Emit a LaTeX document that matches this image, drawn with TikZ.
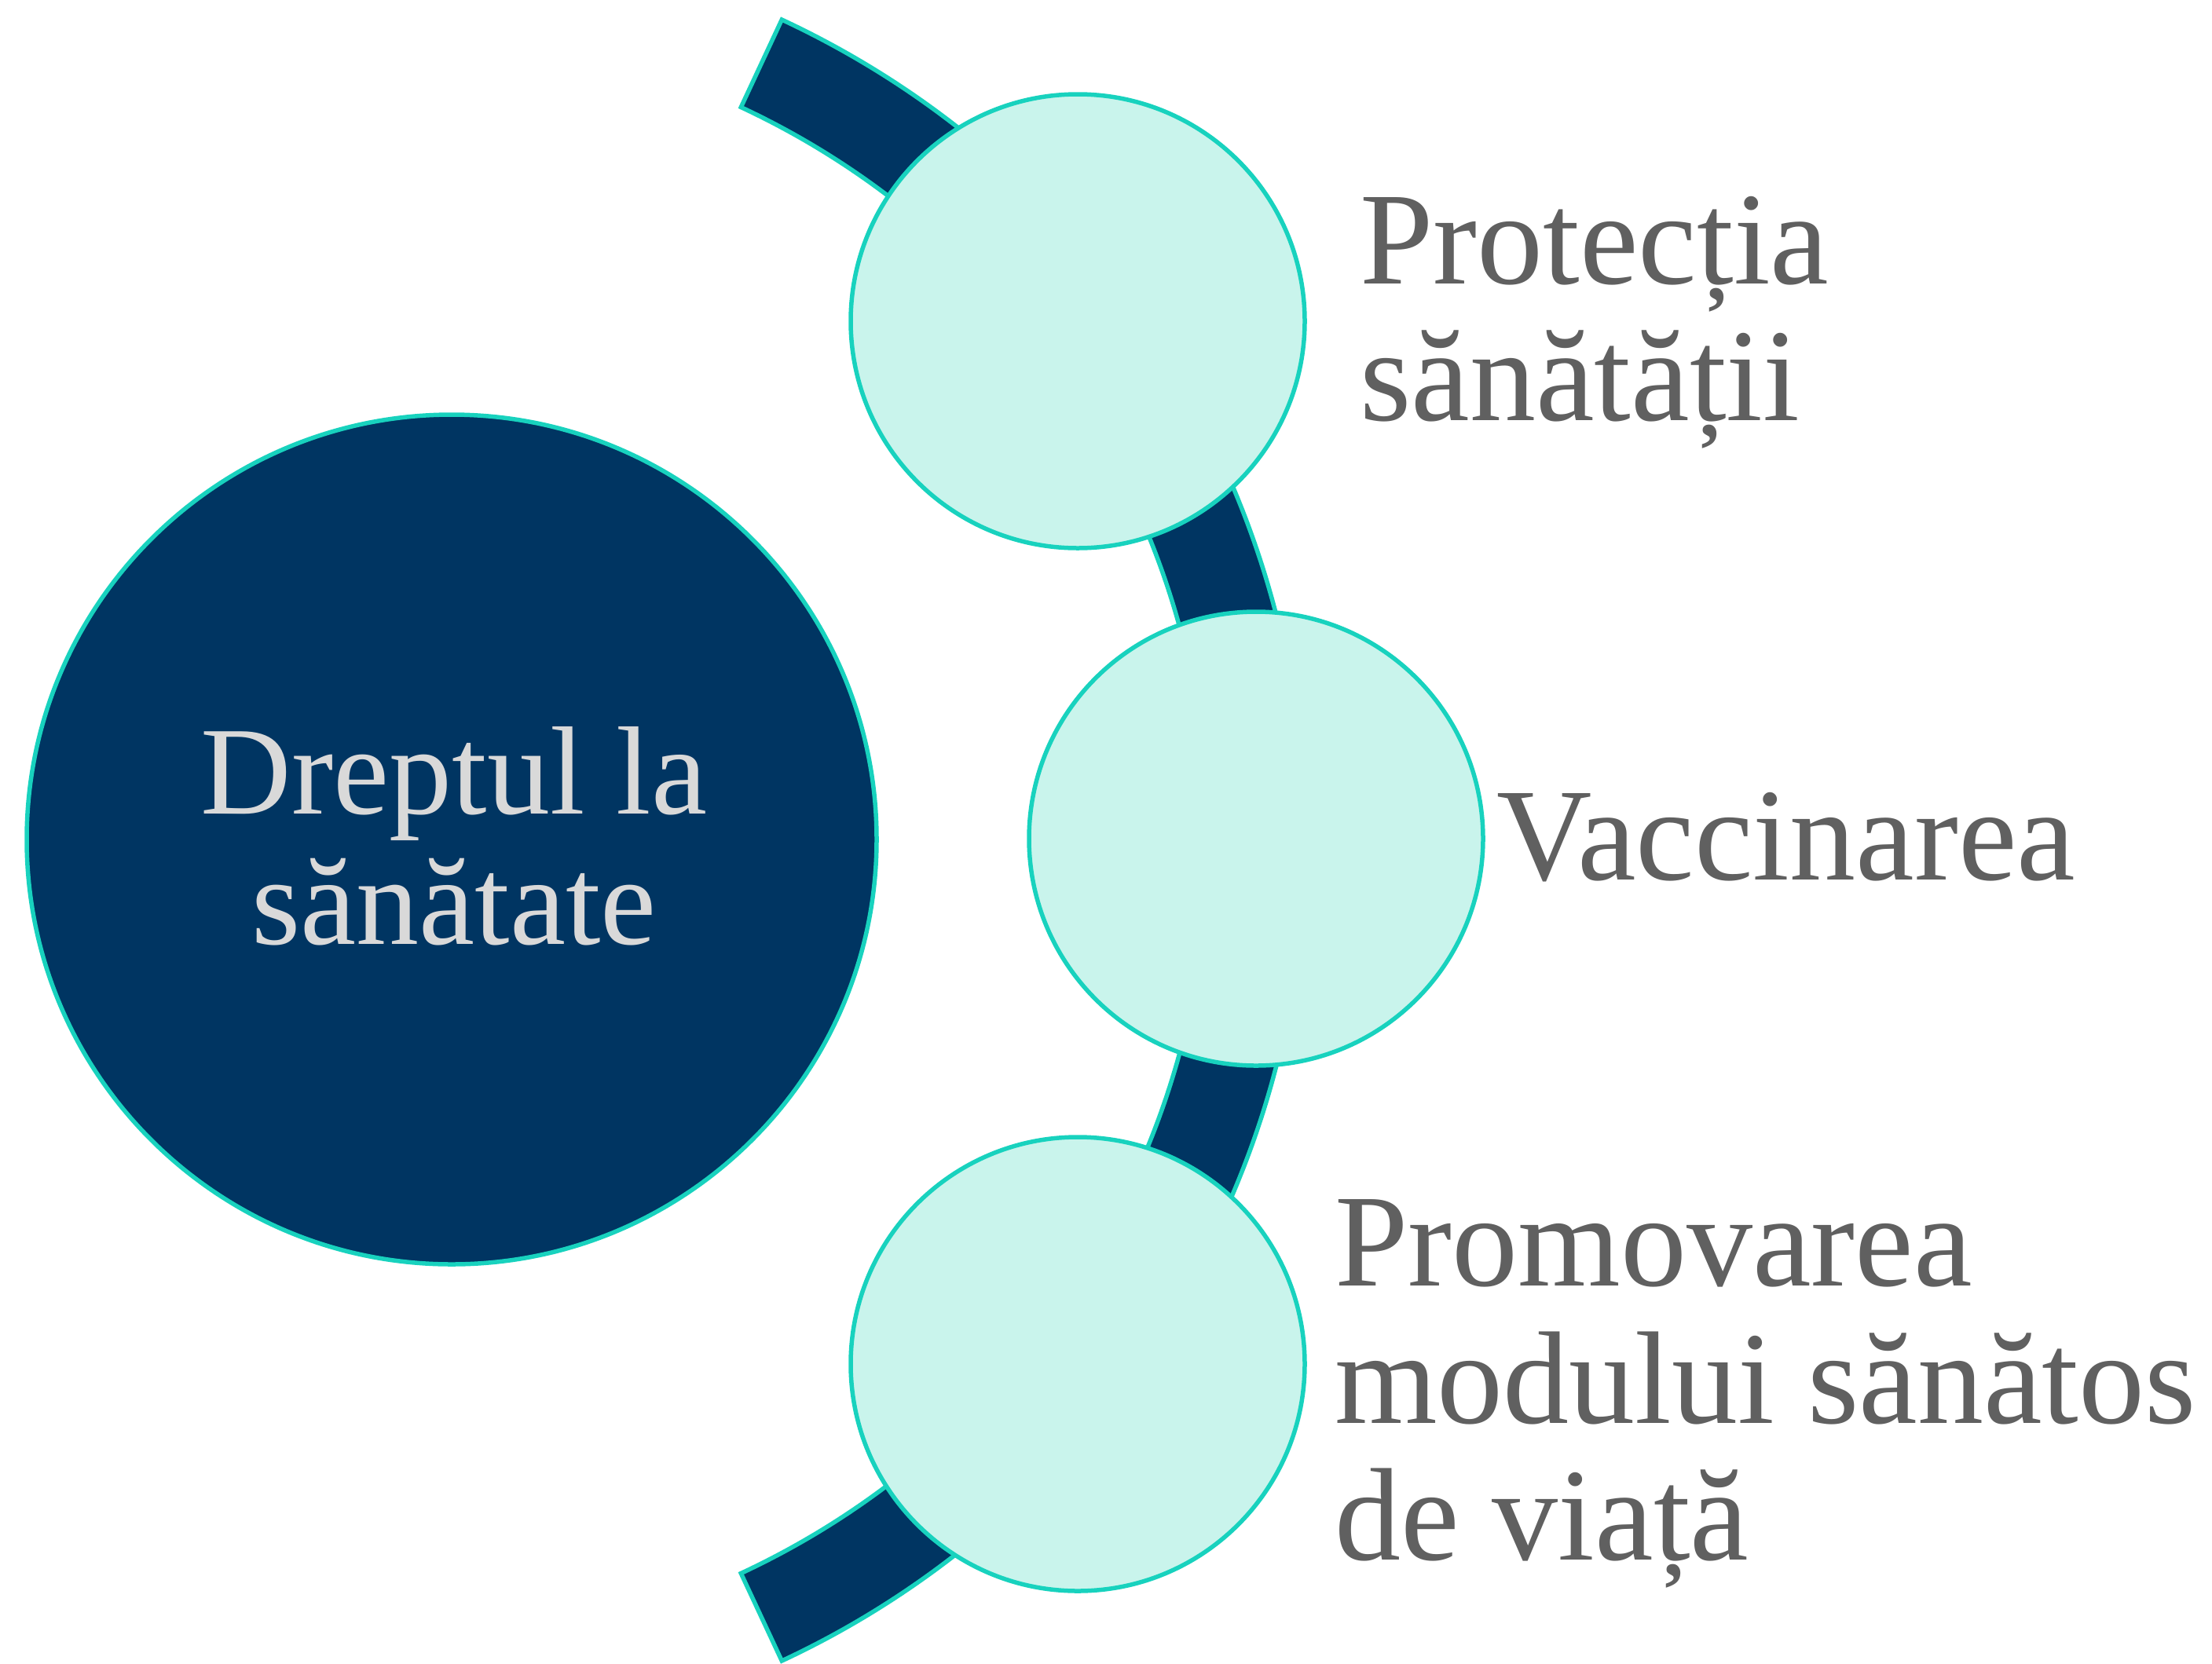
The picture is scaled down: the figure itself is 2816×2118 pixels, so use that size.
\documentclass[tikz,border=0pt]{standalone}
\usepackage{fontspec}
\setmainfont{Liberation Serif}
\definecolor{navy}{RGB}{0,53,98}
\definecolor{tealline}{RGB}{24,210,190}
\definecolor{mintfill}{RGB}{201,244,236}
\definecolor{labelgray}{RGB}{96,96,96}
\definecolor{lighttext}{RGB}{217,217,217}
\tikzset{
  bandshape/.style={fill=navy, draw=tealline, line width=5.5pt, line join=miter},
  bigcircle/.style={circle, fill=navy, draw=tealline, line width=5.5pt, minimum size=1082pt, inner sep=0pt},
  smallcircle/.style={circle, fill=mintfill, draw=tealline, line width=5.5pt, minimum size=578pt, inner sep=0pt},
  sidelabel/.style={anchor=base west, inner sep=0pt, text=labelgray, font=\fontsize{168}{174}\selectfont},
  centerlabel/.style={anchor=base, inner sep=0pt, text=lighttext, font=\fontsize{160}{166}\selectfont}
}
\begin{document}
\begin{tikzpicture}[x=1pt,y=-1pt]
\useasboundingbox (0,0) rectangle (2816,2118);
% curved band
\coordinate (arcc) at (508,1070);
\draw[bandshape] ([shift={(-65:1153)}]arcc) arc[start angle=-65,end angle=65,radius=1153]
  -- ([shift={(65:1030)}]arcc) arc[start angle=65,end angle=-65,radius=1030] -- cycle;
% main circle
\node[bigcircle] (main) at (575,1069) {};
\node[centerlabel] (mainA) at (578,1036) {Dreptul la};
\node[centerlabel] (mainB) at (578,1202) {sănătate};
% small circles
\node[smallcircle] (c1) at (1372,409) {};
\node[smallcircle] (c2) at (1599,1068) {};
\node[smallcircle] (c3) at (1372,1737) {};
% labels
\node[sidelabel] (t1a) at (1731,361) {Protecția};
\node[sidelabel] (t1b) at (1731,535) {sănătății};
\node[sidelabel] (t2) at (1905,1120) {Vaccinarea};
\node[sidelabel] (t3a) at (1699,1637) {Promovarea};
\node[sidelabel] (t3b) at (1699,1812) {modului sănătos};
\node[sidelabel] (t3c) at (1699,1986) {de viață};
\end{tikzpicture}
\end{document}
